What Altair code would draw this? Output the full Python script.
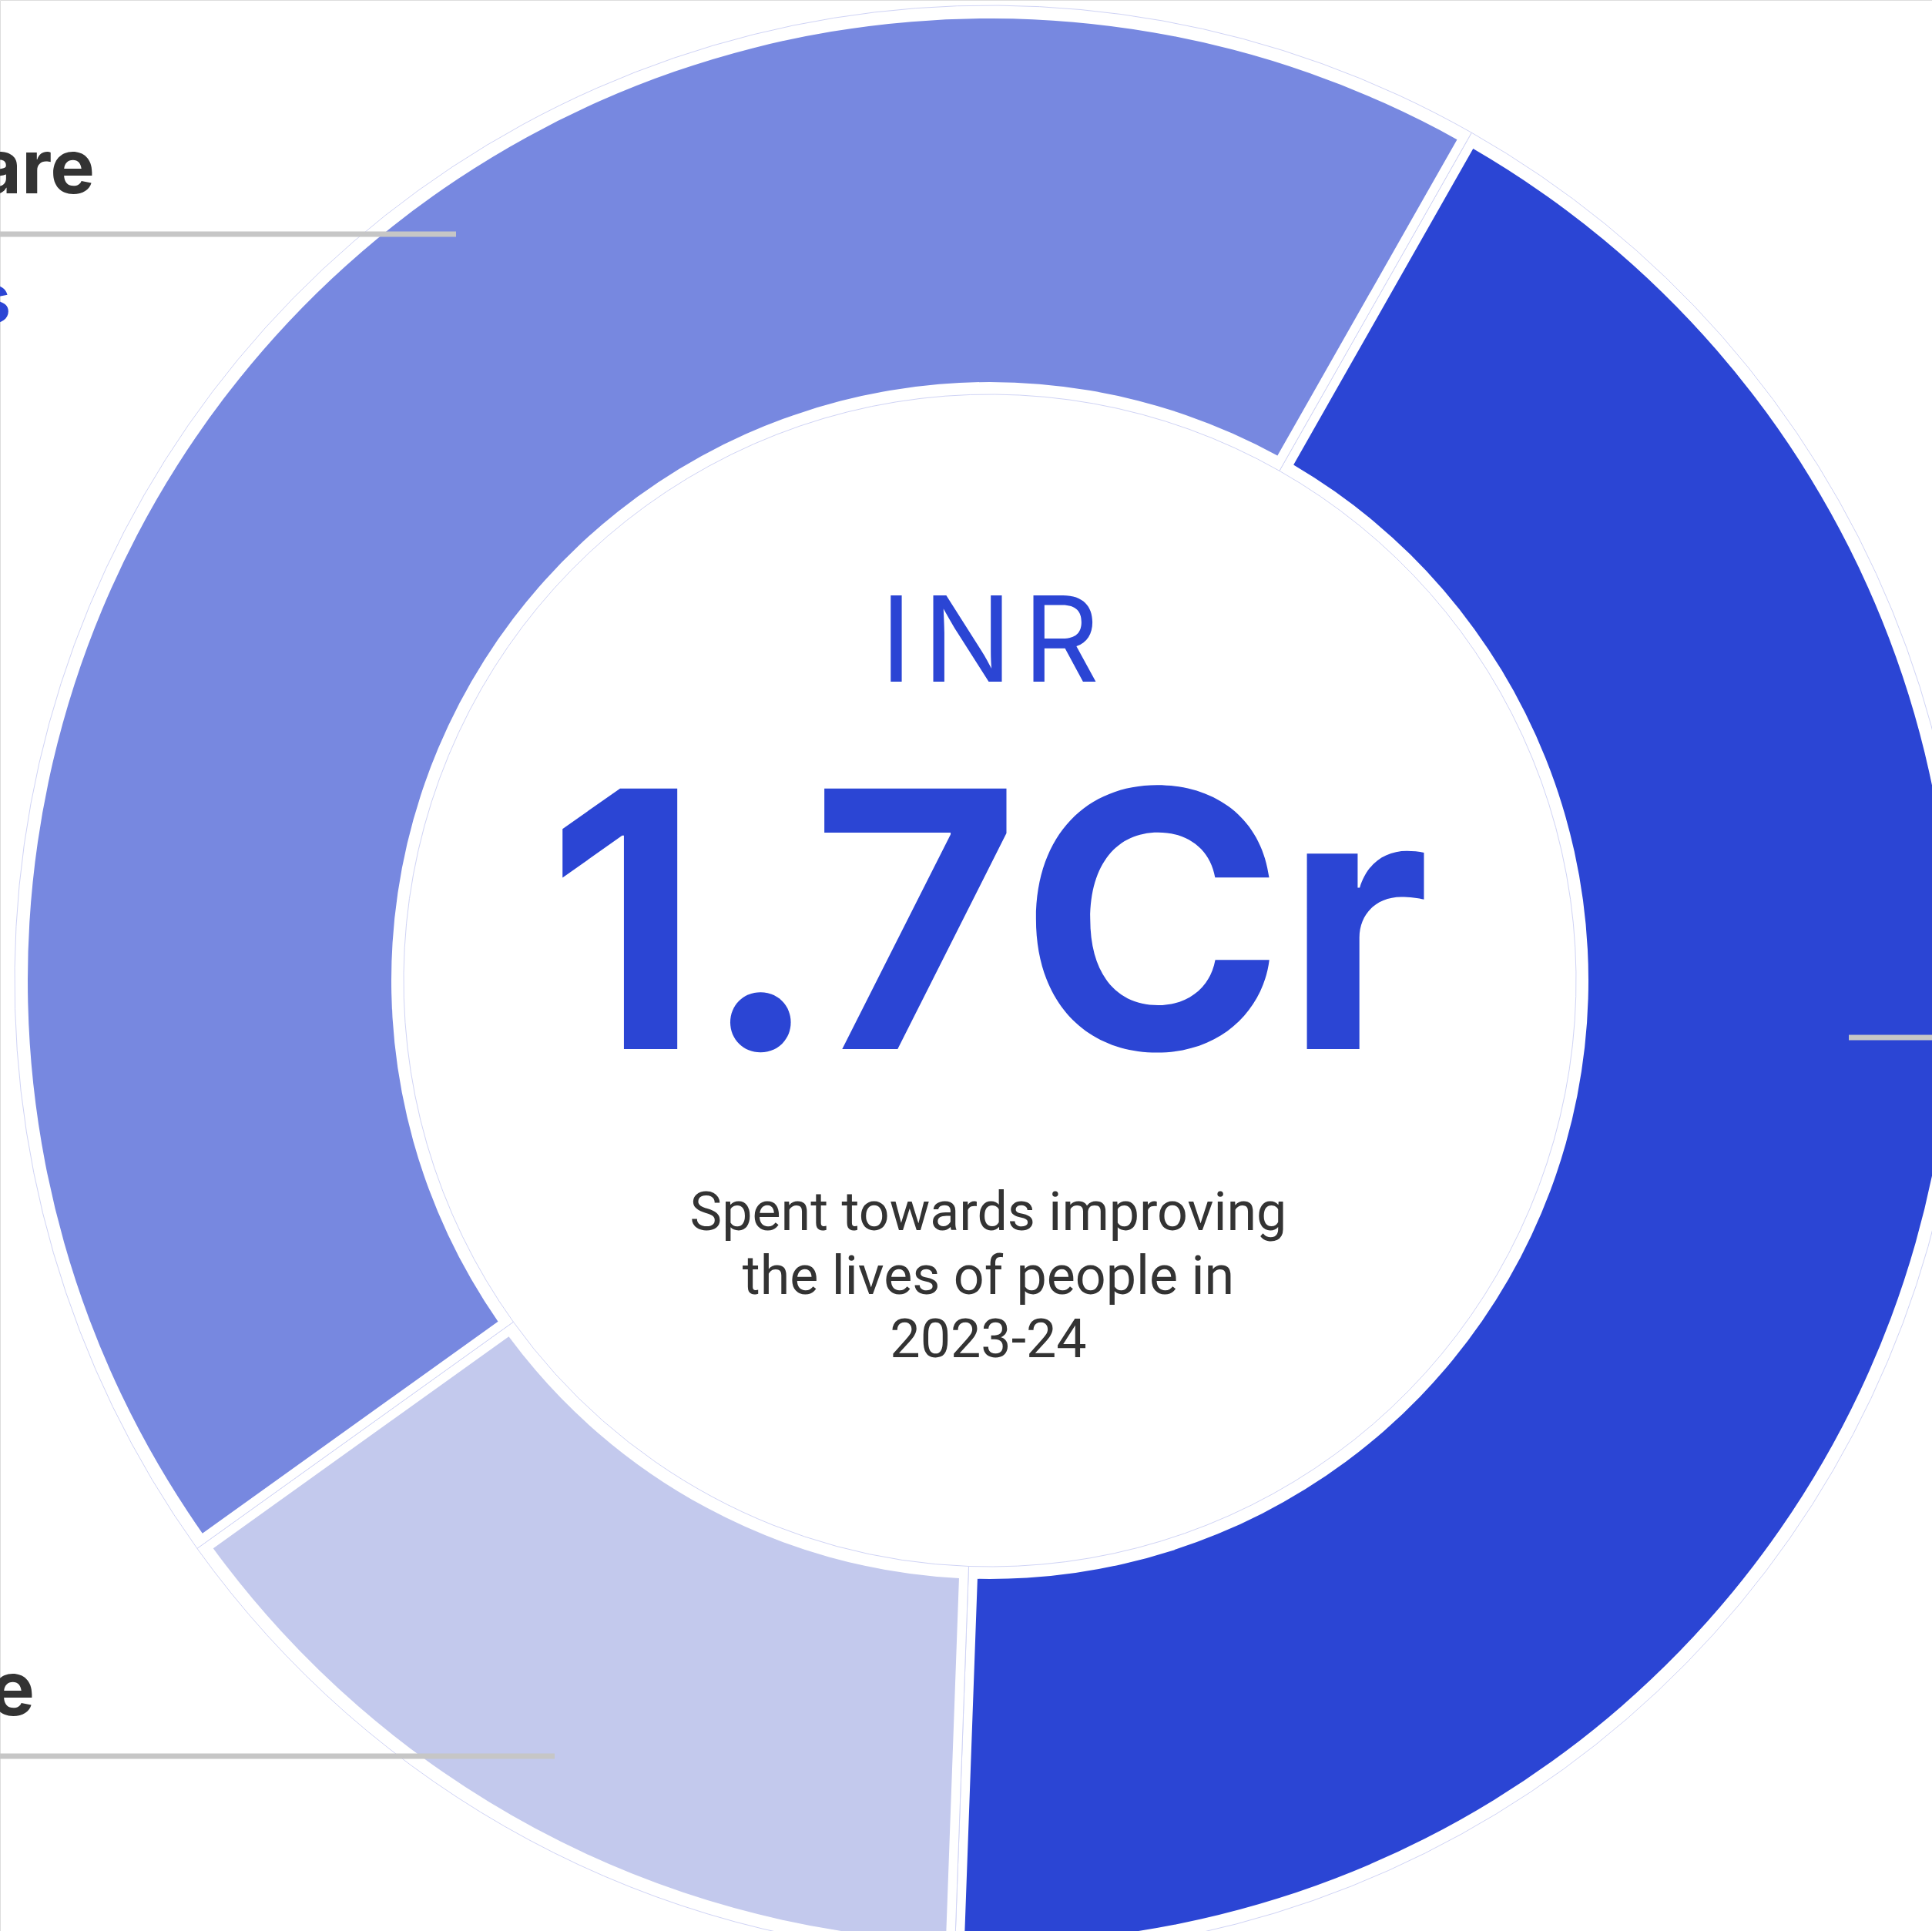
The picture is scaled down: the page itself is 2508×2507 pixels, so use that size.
import math
import altair as alt
import pandas as pd

# ---- data ----
categories = ["Education", "Climate", "Healthcare"]
amounts_cr = [0.72, 0.247, 0.733]          # INR crore, share of 1.7 Cr
seg_order = [0, 1, 2]
seg_colors = ["#2b45d4", "#c3c9ed", "#7788e0"]

center_unit = "I\u200aN\u200aR"
center_value = "1.7Cr"
center_caption = ["Spent towards improving", "the lives of people in", "2023-24"]

label_top_name = "Healthcare"
label_top_value = "INR 73 Lakhs"
label_bottom_name = "Climate"

df = pd.DataFrame({"category": categories, "amount": amounts_cr, "order": seg_order})

W, H = 2508, 2507
CX, CY = 1285, 1273
start = math.radians(29.6)

theta = alt.Theta("amount:Q", stack=True,
                  scale=alt.Scale(range=[start, start + 2 * math.pi]))
color = alt.Color("category:N",
                  scale=alt.Scale(domain=categories, range=seg_colors),
                  legend=None)

base = alt.Chart(df).encode(theta=theta, order=alt.Order("order:Q"),
                            x=alt.value(CX), y=alt.value(CY))

frame = base.mark_arc(radius=1266, radius2=761, fill="white",
                      stroke="#cfd3f5", strokeWidth=1)
ring = base.mark_arc(radius=1249, radius2=777, padAngle=0.0163,
                     stroke=None).encode(color=color)

FONT = "Inter"

def text_layer(txt, x, y, size, col, weight="normal", align="center", lh=None, font=FONT):
    kw = dict(font=font, fontSize=size, color=col, fontWeight=weight,
              align=align, baseline="alphabetic")
    if lh is not None:
        kw["lineHeight"] = lh
    return alt.Chart(pd.DataFrame({"t": [0]})).mark_text(**kw).encode(
        x=alt.value(x), y=alt.value(y), text=alt.value(txt))

def rule_layer(x1, x2, y):
    return alt.Chart(pd.DataFrame({"t": [0]})).mark_rule(
        color="#c6c6c6", strokeWidth=7).encode(
        x=alt.value(x1), x2=alt.value(x2), y=alt.value(y))

layers = [
    frame, ring,
    rule_layer(-10, 592, 304),
    rule_layer(-10, 720, 2280),
    rule_layer(2400, 2520, 1347),
    text_layer(label_top_name, 123, 251, 97, "#333333", "bold", "right"),
    text_layer(label_top_value, 14, 419, 88, "#2b45d4", "bold", "right"),
    text_layer(label_bottom_name, 45, 2227, 97, "#333333", "bold", "right"),
    text_layer(center_unit, 1285, 885, 154, "#2b45d4"),
    text_layer(center_value, 1283, 1362, 465, "#2b45d4", "bold"),
    text_layer(center_caption, 1283, 1597, 70, "#333333", lh=82.5, font="Roboto"),
]

chart = alt.layer(*layers).properties(
    width=W, height=H, autosize=alt.AutoSizeParams(type="none"), padding=0
).configure_view(stroke=None).configure(background="white")

chart.save("out.html", embed_options={"renderer": "svg", "actions": False})
